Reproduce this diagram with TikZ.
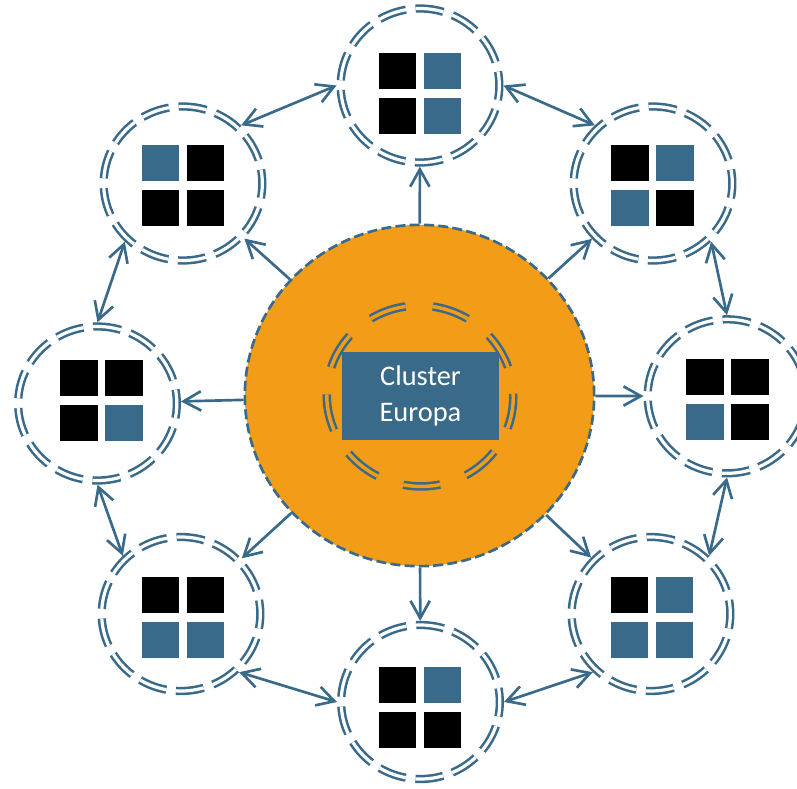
\documentclass[tikz,border=0pt]{standalone}
\usepackage{fontspec}
\setmainfont{Carlito}
\usetikzlibrary{arrows.meta,shapes.geometric}
\definecolor{cblue}{HTML}{3A6A8A}
\definecolor{corange}{HTML}{F39C18}
\newcommand\sqgrid[6]{%
  \begin{scope}[shift={(#1,#2)}]
    \fill[#3] (-41.5,-40.5) rectangle (-4,-4.5);
    \fill[#4] (3.5,-40.5) rectangle (41,-4.5);
    \fill[#5] (-41.5,4.5) rectangle (-4,40.5);
    \fill[#6] (3.5,4.5) rectangle (41,40.5);
  \end{scope}}
\begin{document}
\begin{tikzpicture}[x=0.75pt,y=-0.75pt,
  ring/.style={ellipse, draw=cblue, line width=1.9pt, double=white, double distance=2.4pt,
    dash pattern=on 21pt off 7.3pt, dash phase=10.5pt,
    minimum width=119pt, minimum height=115.5pt, inner sep=0pt, outer sep=3.1pt},
  hubstyle/.style={ellipse, fill=corange, draw=cblue, line width=2pt,
    dash pattern=on 7.5pt off 3.2pt, minimum width=262pt, minimum height=256pt, inner sep=0pt},
  innerring/.style={ellipse, draw=cblue, line width=1.9pt, double=corange, double distance=2.6pt,
    dash pattern=on 27.75pt off 20.5pt, dash phase=13.9pt, rotate=-10,
    minimum width=140pt, minimum height=135.5pt, inner sep=0pt},
  labelbox/.style={rectangle, fill=cblue, text=white, minimum width=117.75pt, minimum height=66pt,
    inner sep=0pt, align=center, font=\fontsize{21.3pt}{26.5pt}\selectfont},
  tip/.tip={Straight Barb[length=13pt,width=14.5pt]},
  link/.style={draw=cblue, line width=2pt, -tip},
  both/.style={draw=cblue, line width=2pt, tip-tip}
]
\useasboundingbox (0,0) rectangle (797,789);

% hub
\node[hubstyle] (hub) at (419.5,395.5) {};
\node[innerring] (inner) at (420,396) {};
\node[labelbox] (label) at (420.5,396) {Cluster\\Europa};

% outer rings
\node[ring] (T)  at (420,85.5) {};
\node[ring] (TR) at (653,183.5) {};
\node[ring] (R)  at (727,396.3) {};
\node[ring] (BR) at (651,614) {};
\node[ring] (B)  at (420.5,702) {};
\node[ring] (BL) at (181,614) {};
\node[ring] (L)  at (97.5,403.5) {};
\node[ring] (TL) at (183,183.5) {};

% square grids (TL, TR, BL, BR)
\sqgrid{420}{93.5}{black}{cblue}{black}{cblue}
\sqgrid{652.8}{185.5}{black}{cblue}{cblue}{black}
\sqgrid{727.5}{399.5}{black}{black}{cblue}{black}
\sqgrid{652.3}{617}{black}{cblue}{cblue}{cblue}
\sqgrid{420}{707}{black}{cblue}{black}{black}
\sqgrid{183.3}{617}{black}{black}{cblue}{cblue}
\sqgrid{101.7}{400}{black}{black}{black}{cblue}
\sqgrid{183.3}{185.5}{cblue}{black}{black}{black}

% hub to rings
\foreach \n in {T,TR,R,BR,B,BL,L,TL} \draw[link] (hub) -- (\n);

% ring connections
\draw[both] (TL.45) -- (T.180);
\draw[both] (T.0) -- (TR.135);
\draw[both] (TR.-45) -- (R.90);
\draw[both] (R.-90) -- (BR.45);
\draw[both] (BR.-135) -- (B.0);
\draw[both] (B.180) -- (BL.-45);
\draw[both] (BL.135) -- (L.-90);
\draw[both] (L.90) -- (TL.-135);
\end{tikzpicture}
\end{document}
